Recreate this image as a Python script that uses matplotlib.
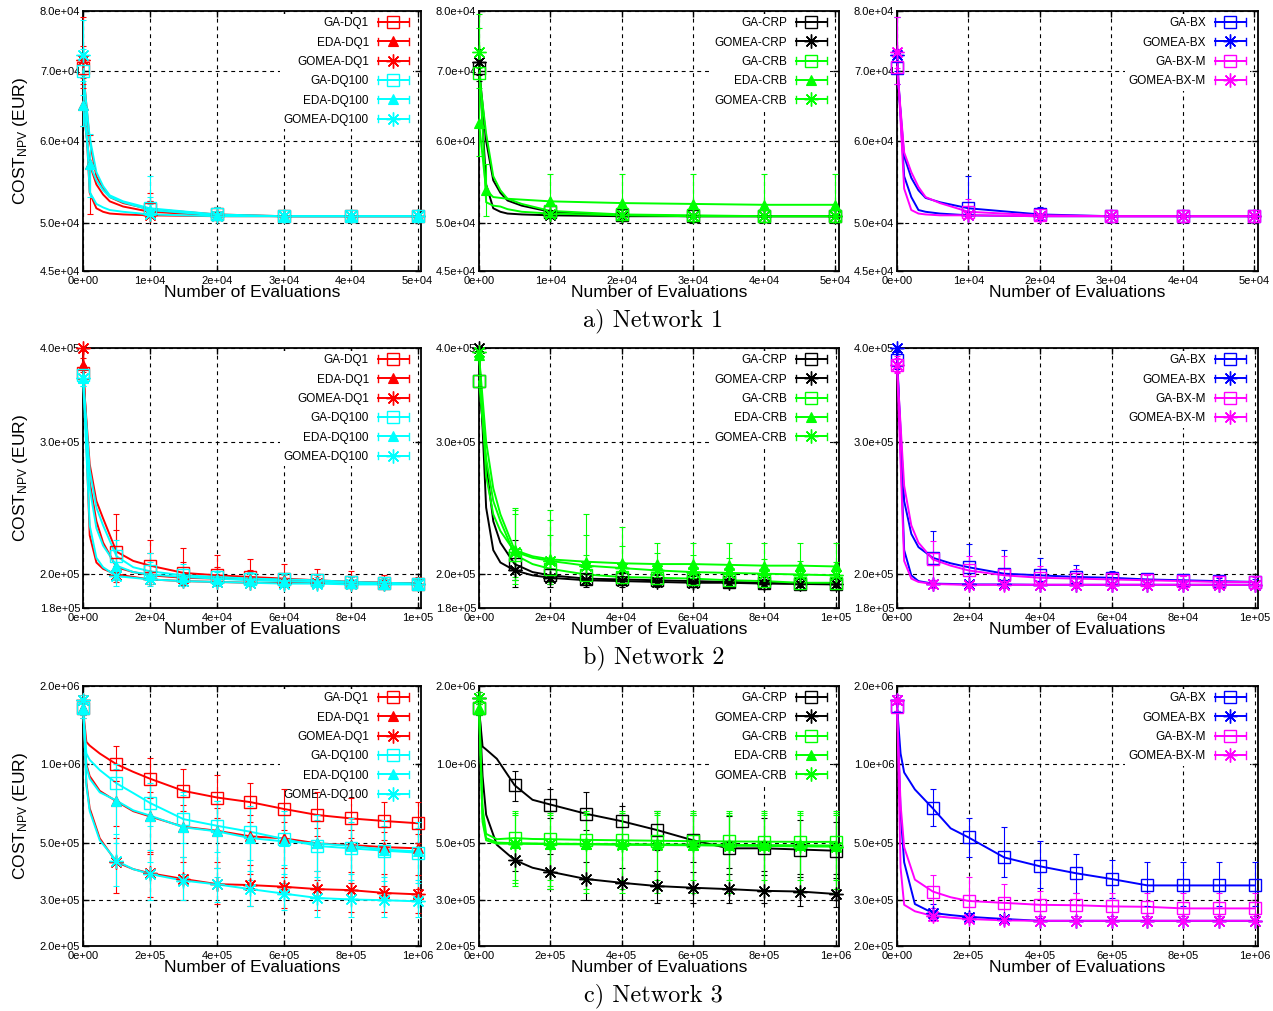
import numpy as np
import matplotlib
matplotlib.use('Agg')
import matplotlib.pyplot as plt
from matplotlib.lines import Line2D
from matplotlib.legend_handler import HandlerLine2D
from matplotlib.ticker import FixedLocator, FuncFormatter, NullLocator

plt.rcParams['font.family'] = ['Liberation Sans', 'DejaVu Sans']
plt.rcParams['mathtext.default'] = 'regular'

# ---------------- Network 1 ----------------
E1 = [0, 1000, 2000, 3000, 4000, 6000, 10000, 20000, 30000, 40000, 50000]
M1 = [0, 10000, 20000, 30000, 40000, 50000]
M1_EDA = [0, 1000, 10000, 20000, 30000, 40000, 50000]

N1_GA_DQ1 = [70500, 60000, 55500, 54000, 53000, 52300, 51600, 51000, 50800, 50800, 50800]
N1_EDA_DQ1 = [65000, 57000, 54500, 53300, 52500, 51900, 51300, 50900, 50800, 50800, 50800]
N1_GOMEA_DQ1 = [71800, 53500, 51700, 51300, 51100, 51000, 50900, 50800, 50800, 50800, 50800]
N1_GA_DQ100 = [70000, 60500, 56000, 54300, 53200, 52500, 51700, 51000, 50800, 50800, 50800]
N1_EDA_DQ100 = [65000, 57000, 55000, 53800, 53000, 52400, 51500, 50900, 50800, 50800, 50800]
N1_GOMEA_DQ100 = [72600, 53600, 52200, 51800, 51500, 51300, 51000, 50800, 50800, 50800, 50800]
N1_GA_DQ1_LO = [67500, 50900, 50600, 50700, 50700, 50700]
N1_GA_DQ1_HI = [74000, 53500, 51800, 51000, 50900, 50900]
N1_EDA_DQ1_LO = [62000, 51000, 50700, 50700, 50700, 50700, 50700]
N1_EDA_DQ1_HI = [68000, 60800, 52500, 51300, 50900, 50900, 50900]
N1_GOMEA_DQ1_LO = [69000, 50700, 50700, 50700, 50700, 50700]
N1_GOMEA_DQ1_HI = [79000, 52500, 51400, 51000, 50900, 50900]
N1_GA_DQ100_LO = [66500, 50800, 50600, 50700, 50700, 50700]
N1_GA_DQ100_HI = [73500, 55500, 51800, 51000, 50900, 50900]
N1_EDA_DQ100_LO = [62000, 53000, 50800, 50700, 50700, 50700, 50700]
N1_EDA_DQ100_HI = [68500, 61000, 53000, 51400, 50900, 50900, 50900]
N1_GOMEA_DQ100_LO = [69500, 50700, 50700, 50700, 50700, 50700]
N1_GOMEA_DQ100_HI = [78500, 52200, 51200, 51000, 50900, 50900]

N1_GA_CRP = [70500, 60000, 55000, 53500, 52600, 52000, 51300, 50900, 50800, 50800, 50800]
N1_GOMEA_CRP = [71500, 54500, 51700, 51300, 51100, 51000, 50900, 50800, 50800, 50800, 50800]
N1_GA_CRB = [69700, 61000, 55500, 53800, 52800, 52200, 51400, 51000, 50900, 50800, 50800]
N1_EDA_CRB = [62500, 53800, 53000, 52900, 52800, 52700, 52500, 52300, 52200, 52100, 52100]
N1_GOMEA_CRB = [73000, 52400, 52000, 51900, 51600, 51300, 51100, 50900, 50800, 50800, 50800]
N1_GA_CRP_LO = [68500, 50800, 50700, 50700, 50700, 50700]
N1_GA_CRP_HI = [72000, 52000, 51200, 51000, 50900, 50900]
N1_GOMEA_CRP_LO = [69500, 50600, 50700, 50700, 50700, 50700]
N1_GOMEA_CRP_HI = [73500, 51500, 51000, 50900, 50900, 50900]
N1_GA_CRB_LO = [67500, 50800, 50700, 50700, 50700, 50700]
N1_GA_CRB_HI = [72000, 52200, 51500, 51000, 50900, 50900]
N1_EDA_CRB_LO = [58000, 50800, 50800, 50800, 50800, 50800, 50800]
N1_EDA_CRB_HI = [77000, 57000, 55800, 55800, 55800, 55800, 55800]
N1_GOMEA_CRB_LO = [70500, 50700, 50700, 50700, 50700, 50700]
N1_GOMEA_CRB_HI = [79500, 52000, 51200, 51000, 50900, 50900]

N1_GA_BX = [70500, 58000, 55300, 53800, 52900, 52400, 51700, 51000, 50800, 50800, 50800]
N1_GOMEA_BX = [72500, 55500, 53000, 51500, 51300, 51100, 50900, 50800, 50800, 50800, 50800]
N1_GA_BXM = [70700, 58500, 56000, 54200, 53000, 52300, 51300, 50900, 50800, 50800, 50800]
N1_GOMEA_BXM = [73000, 54000, 51500, 51100, 51000, 50900, 50900, 50800, 50800, 50800, 50800]
N1_GA_BX_LO = [68000, 50800, 50700, 50700, 50700, 50700]
N1_GA_BX_HI = [73000, 55500, 51800, 51000, 50900, 50900]
N1_GOMEA_BX_LO = [70000, 50700, 50700, 50700, 50700, 50700]
N1_GOMEA_BX_HI = [79000, 51300, 51000, 50900, 50900, 50900]
N1_GA_BXM_LO = [68000, 50800, 50700, 50700, 50700, 50700]
N1_GA_BXM_HI = [73500, 52800, 51700, 51000, 50900, 50900]
N1_GOMEA_BXM_LO = [70500, 50700, 50700, 50700, 50700, 50700]
N1_GOMEA_BXM_HI = [79000, 51200, 51000, 50900, 50900, 50900]

# ---------------- Network 2 ----------------
E2 = [0, 2000, 4000, 6000, 10000, 15000, 20000, 30000, 40000, 50000, 60000, 70000, 80000, 90000, 100000]
M2 = [0, 10000, 20000, 30000, 40000, 50000, 60000, 70000, 80000, 90000, 100000]

N2_GA_DQ1 = [370000, 280000, 250000, 237000, 214000, 208000, 205000, 200500, 199000, 198000, 197000, 196000, 195000, 194500, 194000]
N2_EDA_DQ1 = [380000, 265000, 235000, 220000, 204000, 201000, 199000, 197500, 197000, 196500, 196000, 195500, 195000, 194500, 194000]
N2_GOMEA_DQ1 = [400000, 225000, 207000, 203000, 199500, 198000, 196500, 195500, 195000, 194500, 194500, 194500, 194000, 194000, 194000]
N2_GA_DQ100 = [368000, 275000, 245000, 232000, 211000, 204000, 201500, 199000, 198000, 197000, 196500, 196000, 195000, 194500, 194000]
N2_EDA_DQ100 = [365000, 260000, 230000, 218000, 205000, 201000, 199500, 198000, 197000, 196000, 195500, 195000, 194500, 194000, 194000]
N2_GOMEA_DQ100 = [365000, 232000, 210000, 204000, 198500, 197500, 196500, 195500, 195000, 194500, 194000, 194000, 193500, 193500, 193500]
N2_GA_DQ1_LO = [362000, 200000, 196000, 194000, 193000, 193000, 192500, 192500, 192500, 192500, 192500]
N2_GA_DQ1_HI = [380000, 240000, 222000, 216500, 212000, 209000, 206000, 203000, 201500, 199500, 198000]
N2_EDA_DQ1_LO = [372000, 196000, 194000, 193500, 193000, 193000, 193000, 193000, 193000, 193000, 193000]
N2_EDA_DQ1_HI = [388000, 229000, 213000, 207000, 204000, 202000, 200000, 199000, 198000, 197000, 196500]
N2_GOMEA_DQ1_LO = [396000, 195000, 194000, 193000, 193000, 192500, 192500, 192500, 192500, 192500, 192500]
N2_GOMEA_DQ1_HI = [400000, 205000, 200000, 198500, 198000, 197000, 197000, 196500, 196000, 196000, 196000]
N2_GA_DQ100_LO = [360000, 202000, 196000, 194500, 194000, 193500, 193500, 193500, 193000, 193000, 193000]
N2_GA_DQ100_HI = [376000, 222000, 213000, 206000, 203000, 201000, 200000, 199000, 198000, 197500, 197000]
N2_EDA_DQ100_LO = [356000, 196000, 194000, 194000, 193500, 193500, 193000, 193000, 193000, 193000, 193000]
N2_EDA_DQ100_HI = [374000, 215000, 207000, 203000, 201000, 200000, 199000, 198000, 197000, 196500, 196000]
N2_GOMEA_DQ100_LO = [356000, 192500, 192500, 192500, 192500, 192500, 192000, 192000, 192000, 192000, 192000]
N2_GOMEA_DQ100_HI = [374000, 205000, 200000, 198500, 198000, 197000, 196500, 196000, 195500, 195000, 195000]

N2_GA_CRP = [362000, 280000, 235000, 220000, 206000, 201000, 199000, 197000, 196500, 196000, 195500, 195000, 194500, 194000, 194000]
N2_GOMEA_CRP = [400000, 245000, 215000, 207000, 202000, 199000, 197500, 196000, 195500, 195000, 194500, 194500, 194000, 193800, 193500]
N2_GA_CRB = [361000, 285000, 250000, 235000, 212000, 206000, 203000, 199500, 198000, 197500, 197000, 196000, 195500, 194500, 194500]
N2_EDA_CRB = [392000, 300000, 260000, 240000, 215000, 211000, 209000, 207500, 206500, 206000, 206000, 205500, 205000, 205000, 204500]
N2_GOMEA_CRB = [395000, 270000, 240000, 228000, 214000, 210000, 208000, 205000, 203500, 202000, 201000, 200500, 200000, 199500, 199000]
N2_GA_CRP_LO = [355000, 196000, 194000, 193500, 193000, 193000, 193000, 193000, 193000, 193000, 193000]
N2_GA_CRP_HI = [368000, 222000, 210000, 203000, 201000, 199500, 198500, 197500, 197000, 196500, 196500]
N2_GOMEA_CRP_LO = [395000, 192000, 192000, 192000, 192000, 192000, 192000, 192000, 192000, 192000, 192000]
N2_GOMEA_CRP_HI = [400000, 215000, 203000, 200000, 198500, 197500, 197000, 196500, 196000, 195500, 195000]
N2_GA_CRB_LO = [355000, 198000, 195000, 194000, 193500, 193500, 193500, 193000, 193000, 193000, 193000]
N2_GA_CRB_HI = [368000, 240000, 225000, 212000, 207000, 204000, 202000, 200000, 199000, 198000, 197500]
N2_EDA_CRB_LO = [385000, 194000, 194000, 194000, 194000, 194000, 194000, 194000, 194000, 194000, 194000]
N2_EDA_CRB_HI = [398000, 245000, 243000, 240000, 231000, 220000, 220000, 220000, 220000, 220000, 220000]
N2_GOMEA_CRB_LO = [390000, 196000, 195000, 194500, 194000, 194000, 194000, 194000, 194000, 194000, 194000]
N2_GOMEA_CRB_HI = [400000, 243000, 236000, 225000, 218000, 213000, 212000, 210000, 209000, 208000, 207000]

N2_GA_BX = [385000, 250000, 226000, 217000, 210000, 206500, 204000, 200000, 199000, 198000, 197500, 196500, 196000, 195500, 195000]
N2_GOMEA_BX = [400000, 215000, 199000, 195500, 194000, 193800, 193500, 193500, 193300, 193300, 193300, 193300, 193300, 193300, 193300]
N2_GA_BXM = [380000, 262000, 232000, 220000, 209000, 205000, 202000, 199000, 197500, 197000, 196500, 196000, 195500, 195000, 195000]
N2_GOMEA_BXM = [380000, 208000, 197000, 195000, 193800, 193500, 193300, 193300, 193300, 193300, 193300, 193300, 193300, 193300, 193300]
N2_GA_BX_LO = [375000, 196000, 195000, 194000, 194000, 194000, 194000, 194000, 194000, 194000, 194000]
N2_GA_BX_HI = [395000, 228000, 219000, 215000, 210000, 205500, 201500, 199500, 198500, 197500, 197000]
N2_GOMEA_BX_LO = [396000, 192000, 192000, 192000, 192000, 192000, 192000, 192000, 192000, 192000, 192000]
N2_GOMEA_BX_HI = [400000, 196000, 195000, 195000, 195000, 195000, 195000, 195000, 195000, 195000, 195000]
N2_GA_BXM_LO = [370000, 195000, 193500, 193500, 193500, 193500, 193500, 193500, 193500, 193500, 193500]
N2_GA_BXM_HI = [390000, 221000, 211000, 211000, 205000, 203000, 200000, 199000, 198500, 198000, 198000]
N2_GOMEA_BXM_LO = [372000, 191500, 191500, 191500, 191500, 191500, 191500, 191500, 191500, 191500, 191500]
N2_GOMEA_BXM_HI = [388000, 196000, 195000, 195000, 195000, 195000, 195000, 195000, 195000, 195000, 195000]

# ---------------- Network 3 ----------------
E3 = [0, 10000, 20000, 50000, 100000, 150000, 200000, 300000, 400000, 500000, 600000, 700000, 800000, 900000, 1000000]
M3 = [0, 100000, 200000, 300000, 400000, 500000, 600000, 700000, 800000, 900000, 1000000]

N3_GA_DQ1 = [1640000, 1220000, 1180000, 1100000, 1000000, 935000, 880000, 790000, 745000, 715000, 673000, 638000, 619000, 605000, 593000]
N3_EDA_DQ1 = [1640000, 1000000, 900000, 790000, 720000, 660000, 630000, 575000, 555000, 528000, 519000, 496000, 489000, 480000, 475000]
N3_GOMEA_DQ1 = [1770000, 850000, 677000, 519000, 420000, 395000, 381000, 362000, 346000, 343000, 338000, 331000, 328000, 320000, 316000]
N3_GA_DQ100 = [1640000, 1100000, 1040000, 950000, 845000, 775000, 710000, 615000, 580000, 550000, 516000, 485000, 475000, 465000, 457000]
N3_EDA_DQ100 = [1640000, 980000, 880000, 780000, 725000, 665000, 635000, 572000, 552000, 520000, 505000, 496000, 485000, 470000, 462000]
N3_GOMEA_DQ100 = [1770000, 830000, 660000, 510000, 425000, 395000, 378000, 357000, 345000, 331000, 318000, 306000, 302000, 300000, 297000]
N3_GA_DQ1_LO = [1500000, 860000, 740000, 660000, 620000, 600000, 560000, 530000, 520000, 510000, 500000]
N3_GA_DQ1_HI = [1800000, 1180000, 1060000, 960000, 910000, 845000, 800000, 780000, 740000, 718000, 718000]
N3_EDA_DQ1_LO = [1550000, 580000, 460000, 420000, 400000, 380000, 370000, 360000, 350000, 340000, 330000]
N3_EDA_DQ1_HI = [1700000, 860000, 780000, 700000, 680000, 640000, 600000, 570000, 560000, 550000, 540000]
N3_GOMEA_DQ1_LO = [1650000, 320000, 310000, 300000, 290000, 285000, 280000, 275000, 270000, 270000, 268000]
N3_GOMEA_DQ1_HI = [1850000, 520000, 450000, 440000, 420000, 410000, 400000, 390000, 385000, 380000, 375000]
N3_GA_DQ100_LO = [1500000, 700000, 580000, 500000, 460000, 430000, 410000, 390000, 380000, 370000, 360000]
N3_GA_DQ100_HI = [1750000, 1000000, 850000, 760000, 720000, 680000, 640000, 610000, 600000, 580000, 570000]
N3_EDA_DQ100_LO = [1550000, 500000, 420000, 380000, 370000, 360000, 350000, 340000, 330000, 320000, 310000]
N3_EDA_DQ100_HI = [1700000, 960000, 830000, 780000, 720000, 690000, 660000, 640000, 620000, 610000, 600000]
N3_GOMEA_DQ100_LO = [1650000, 340000, 300000, 300000, 295000, 285000, 275000, 258000, 258000, 258000, 258000]
N3_GOMEA_DQ100_HI = [1850000, 540000, 470000, 440000, 400000, 390000, 380000, 370000, 360000, 355000, 350000]

N3_GA_CRP = [1640000, 1170000, 1140000, 1050000, 830000, 730000, 700000, 645000, 604000, 558000, 510000, 475000, 475000, 470000, 465000]
N3_GOMEA_CRP = [1800000, 900000, 640000, 490000, 428000, 400000, 386000, 362000, 350000, 340000, 335000, 331000, 326000, 324000, 317000]
N3_GA_CRB = [1640000, 680000, 540000, 515000, 520000, 516000, 515000, 512000, 510000, 508000, 506000, 505000, 504000, 503000, 503000]
N3_EDA_CRB = [1640000, 620000, 520000, 500000, 497000, 496000, 495000, 494000, 493000, 492000, 491000, 490000, 489000, 488000, 487000]
N3_GOMEA_CRB = [1800000, 600000, 510000, 495000, 495000, 494000, 493000, 492000, 490000, 489000, 488000, 486000, 485000, 483000, 482000]
N3_GA_CRP_LO = [1550000, 720000, 620000, 560000, 500000, 470000, 420000, 400000, 390000, 380000, 380000]
N3_GA_CRP_HI = [1750000, 940000, 800000, 780000, 690000, 660000, 640000, 630000, 620000, 610000, 600000]
N3_GOMEA_CRP_LO = [1700000, 390000, 330000, 300000, 300000, 292000, 292000, 292000, 292000, 285000, 282000]
N3_GOMEA_CRP_HI = [1900000, 480000, 450000, 420000, 400000, 390000, 385000, 380000, 375000, 370000, 365000]
N3_GA_CRB_LO = [1550000, 360000, 360000, 360000, 360000, 360000, 360000, 360000, 360000, 360000, 360000]
N3_GA_CRB_HI = [1700000, 660000, 660000, 660000, 660000, 660000, 660000, 660000, 660000, 660000, 660000]
N3_EDA_CRB_LO = [1550000, 340000, 330000, 320000, 320000, 320000, 320000, 320000, 320000, 320000, 320000]
N3_EDA_CRB_HI = [1700000, 640000, 640000, 640000, 640000, 640000, 640000, 640000, 640000, 640000, 640000]
N3_GOMEA_CRB_LO = [1700000, 350000, 340000, 330000, 330000, 330000, 330000, 330000, 330000, 330000, 330000]
N3_GOMEA_CRB_HI = [1900000, 650000, 650000, 650000, 650000, 650000, 650000, 650000, 650000, 650000, 650000]

N3_GA_BX = [1670000, 1100000, 930000, 800000, 677000, 567000, 523000, 438000, 405000, 381000, 362000, 342000, 342000, 342000, 342000]
N3_GOMEA_BX = [1770000, 650000, 420000, 290000, 268000, 263000, 259000, 254000, 250000, 250000, 250000, 250000, 250000, 250000, 250000]
N3_GA_BXM = [1660000, 700000, 480000, 360000, 324000, 308000, 298000, 293000, 288000, 287000, 284000, 283000, 279000, 279000, 279000]
N3_GOMEA_BXM = [1770000, 400000, 288000, 272000, 261000, 257000, 254000, 251000, 250000, 250000, 250000, 250000, 250000, 250000, 250000]
N3_GA_BX_LO = [1600000, 580000, 440000, 370000, 333000, 320000, 305000, 285000, 285000, 285000, 285000]
N3_GA_BX_HI = [1750000, 800000, 620000, 575000, 505000, 450000, 430000, 420000, 420000, 420000, 420000]
N3_GOMEA_BX_LO = [1700000, 252000, 250000, 248000, 246000, 246000, 246000, 246000, 246000, 246000, 246000]
N3_GOMEA_BX_HI = [1850000, 290000, 268000, 260000, 256000, 255000, 255000, 255000, 255000, 255000, 255000]
N3_GA_BXM_LO = [1600000, 280000, 262000, 262000, 262000, 262000, 262000, 262000, 262000, 262000, 262000]
N3_GA_BXM_HI = [1720000, 375000, 370000, 345000, 325000, 320000, 320000, 320000, 320000, 320000, 320000]
N3_GOMEA_BXM_LO = [1700000, 250000, 248000, 246000, 246000, 246000, 246000, 246000, 246000, 246000, 246000]
N3_GOMEA_BXM_HI = [1850000, 275000, 262000, 256000, 255000, 255000, 255000, 255000, 255000, 255000, 255000]

RED, CYAN, BLACK, GREEN, BLUE, MAGENTA = '#ff0000', '#00ffff', '#000000', '#00ff00', '#0000ff', '#ff00ff'

ROWS_DATA = [
    dict(E=E1, xlim=50500, xt=[0, 10000, 20000, 30000, 40000, 50000],
         ylim=(45000, 80000), yt=[45000, 50000, 60000, 70000, 80000],
         title='a) Network 1', panels=[
            [('GA-DQ1', RED, 'GA', N1_GA_DQ1, N1_GA_DQ1_LO, N1_GA_DQ1_HI, M1),
             ('EDA-DQ1', RED, 'EDA', N1_EDA_DQ1, N1_EDA_DQ1_LO, N1_EDA_DQ1_HI, M1_EDA),
             ('GOMEA-DQ1', RED, 'GOMEA', N1_GOMEA_DQ1, N1_GOMEA_DQ1_LO, N1_GOMEA_DQ1_HI, M1),
             ('GA-DQ100', CYAN, 'GA', N1_GA_DQ100, N1_GA_DQ100_LO, N1_GA_DQ100_HI, M1),
             ('EDA-DQ100', CYAN, 'EDA', N1_EDA_DQ100, N1_EDA_DQ100_LO, N1_EDA_DQ100_HI, M1_EDA),
             ('GOMEA-DQ100', CYAN, 'GOMEA', N1_GOMEA_DQ100, N1_GOMEA_DQ100_LO, N1_GOMEA_DQ100_HI, M1)],
            [('GA-CRP', BLACK, 'GA', N1_GA_CRP, N1_GA_CRP_LO, N1_GA_CRP_HI, M1),
             ('GOMEA-CRP', BLACK, 'GOMEA', N1_GOMEA_CRP, N1_GOMEA_CRP_LO, N1_GOMEA_CRP_HI, M1),
             ('GA-CRB', GREEN, 'GA', N1_GA_CRB, N1_GA_CRB_LO, N1_GA_CRB_HI, M1),
             ('EDA-CRB', GREEN, 'EDA', N1_EDA_CRB, N1_EDA_CRB_LO, N1_EDA_CRB_HI, M1_EDA),
             ('GOMEA-CRB', GREEN, 'GOMEA', N1_GOMEA_CRB, N1_GOMEA_CRB_LO, N1_GOMEA_CRB_HI, M1)],
            [('GA-BX', BLUE, 'GA', N1_GA_BX, N1_GA_BX_LO, N1_GA_BX_HI, M1),
             ('GOMEA-BX', BLUE, 'GOMEA', N1_GOMEA_BX, N1_GOMEA_BX_LO, N1_GOMEA_BX_HI, M1),
             ('GA-BX-M', MAGENTA, 'GA', N1_GA_BXM, N1_GA_BXM_LO, N1_GA_BXM_HI, M1),
             ('GOMEA-BX-M', MAGENTA, 'GOMEA', N1_GOMEA_BXM, N1_GOMEA_BXM_LO, N1_GOMEA_BXM_HI, M1)]]),
    dict(E=E2, xlim=100900, xt=[0, 20000, 40000, 60000, 80000, 100000],
         ylim=(180000, 400000), yt=[180000, 200000, 300000, 400000],
         title='b) Network 2', panels=[
            [('GA-DQ1', RED, 'GA', N2_GA_DQ1, N2_GA_DQ1_LO, N2_GA_DQ1_HI, M2),
             ('EDA-DQ1', RED, 'EDA', N2_EDA_DQ1, N2_EDA_DQ1_LO, N2_EDA_DQ1_HI, M2),
             ('GOMEA-DQ1', RED, 'GOMEA', N2_GOMEA_DQ1, N2_GOMEA_DQ1_LO, N2_GOMEA_DQ1_HI, M2),
             ('GA-DQ100', CYAN, 'GA', N2_GA_DQ100, N2_GA_DQ100_LO, N2_GA_DQ100_HI, M2),
             ('EDA-DQ100', CYAN, 'EDA', N2_EDA_DQ100, N2_EDA_DQ100_LO, N2_EDA_DQ100_HI, M2),
             ('GOMEA-DQ100', CYAN, 'GOMEA', N2_GOMEA_DQ100, N2_GOMEA_DQ100_LO, N2_GOMEA_DQ100_HI, M2)],
            [('GA-CRP', BLACK, 'GA', N2_GA_CRP, N2_GA_CRP_LO, N2_GA_CRP_HI, M2),
             ('GOMEA-CRP', BLACK, 'GOMEA', N2_GOMEA_CRP, N2_GOMEA_CRP_LO, N2_GOMEA_CRP_HI, M2),
             ('GA-CRB', GREEN, 'GA', N2_GA_CRB, N2_GA_CRB_LO, N2_GA_CRB_HI, M2),
             ('EDA-CRB', GREEN, 'EDA', N2_EDA_CRB, N2_EDA_CRB_LO, N2_EDA_CRB_HI, M2),
             ('GOMEA-CRB', GREEN, 'GOMEA', N2_GOMEA_CRB, N2_GOMEA_CRB_LO, N2_GOMEA_CRB_HI, M2)],
            [('GA-BX', BLUE, 'GA', N2_GA_BX, N2_GA_BX_LO, N2_GA_BX_HI, M2),
             ('GOMEA-BX', BLUE, 'GOMEA', N2_GOMEA_BX, N2_GOMEA_BX_LO, N2_GOMEA_BX_HI, M2),
             ('GA-BX-M', MAGENTA, 'GA', N2_GA_BXM, N2_GA_BXM_LO, N2_GA_BXM_HI, M2),
             ('GOMEA-BX-M', MAGENTA, 'GOMEA', N2_GOMEA_BXM, N2_GOMEA_BXM_LO, N2_GOMEA_BXM_HI, M2)]]),
    dict(E=E3, xlim=1009000, xt=[0, 200000, 400000, 600000, 800000, 1000000],
         ylim=(200000, 2000000), yt=[200000, 300000, 500000, 1000000, 2000000],
         title='c) Network 3', panels=[
            [('GA-DQ1', RED, 'GA', N3_GA_DQ1, N3_GA_DQ1_LO, N3_GA_DQ1_HI, M3),
             ('EDA-DQ1', RED, 'EDA', N3_EDA_DQ1, N3_EDA_DQ1_LO, N3_EDA_DQ1_HI, M3),
             ('GOMEA-DQ1', RED, 'GOMEA', N3_GOMEA_DQ1, N3_GOMEA_DQ1_LO, N3_GOMEA_DQ1_HI, M3),
             ('GA-DQ100', CYAN, 'GA', N3_GA_DQ100, N3_GA_DQ100_LO, N3_GA_DQ100_HI, M3),
             ('EDA-DQ100', CYAN, 'EDA', N3_EDA_DQ100, N3_EDA_DQ100_LO, N3_EDA_DQ100_HI, M3),
             ('GOMEA-DQ100', CYAN, 'GOMEA', N3_GOMEA_DQ100, N3_GOMEA_DQ100_LO, N3_GOMEA_DQ100_HI, M3)],
            [('GA-CRP', BLACK, 'GA', N3_GA_CRP, N3_GA_CRP_LO, N3_GA_CRP_HI, M3),
             ('GOMEA-CRP', BLACK, 'GOMEA', N3_GOMEA_CRP, N3_GOMEA_CRP_LO, N3_GOMEA_CRP_HI, M3),
             ('GA-CRB', GREEN, 'GA', N3_GA_CRB, N3_GA_CRB_LO, N3_GA_CRB_HI, M3),
             ('EDA-CRB', GREEN, 'EDA', N3_EDA_CRB, N3_EDA_CRB_LO, N3_EDA_CRB_HI, M3),
             ('GOMEA-CRB', GREEN, 'GOMEA', N3_GOMEA_CRB, N3_GOMEA_CRB_LO, N3_GOMEA_CRB_HI, M3)],
            [('GA-BX', BLUE, 'GA', N3_GA_BX, N3_GA_BX_LO, N3_GA_BX_HI, M3),
             ('GOMEA-BX', BLUE, 'GOMEA', N3_GOMEA_BX, N3_GOMEA_BX_LO, N3_GOMEA_BX_HI, M3),
             ('GA-BX-M', MAGENTA, 'GA', N3_GA_BXM, N3_GA_BXM_LO, N3_GA_BXM_HI, M3),
             ('GOMEA-BX-M', MAGENTA, 'GOMEA', N3_GOMEA_BXM, N3_GOMEA_BXM_LO, N3_GOMEA_BXM_HI, M3)]]),
]

STYLE = {'GA': dict(marker='s', markersize=8.5, markerfacecolor='none', markeredgewidth=1.0),
         'EDA': dict(marker='^', markersize=7, markeredgewidth=0.8),
         'GOMEA': dict(marker=(8, 2, 0), markersize=10, markeredgewidth=1.0)}


class HandlerEB(HandlerLine2D):
    def create_artists(self, legend, orig_handle, xdescent, ydescent, width, height, fontsize, trans):
        arts = super().create_artists(legend, orig_handle, xdescent, ydescent, width, height, fontsize, trans)
        yc = (height - ydescent) / 2.0
        for xx in (-xdescent, -xdescent + width):
            cap = Line2D([xx, xx], [yc - 2.6, yc + 2.6], color=orig_handle.get_color(), lw=1.0)
            cap.set_transform(trans)
            arts.append(cap)
        return list(arts)


W, H = 1273, 1011
fig = plt.figure(figsize=(W / 100, H / 100), dpi=100)
fig.patch.set_facecolor('white')

COLS = [(83, 421), (479, 839), (897, 1258)]
ROWS = [(11, 271), (348, 608), (686, 946)]
TITLE_Y = [321, 658, 996]

for r, rd in enumerate(ROWS_DATA):
    x = np.asarray(rd['E'], float)
    for c, series in enumerate(rd['panels']):
        x0, x1 = COLS[c]
        y0, y1 = ROWS[r]
        ax = fig.add_axes([x0 / W, 1 - y1 / H, (x1 - x0) / W, (y1 - y0) / H])
        ax.set_yscale('log')
        handles, labels = [], []
        for (label, color, kind, vals, lo, hi, marks) in series:
            y = np.asarray(vals, float)
            idx = [int(np.argmin(np.abs(x - m))) for m in marks]
            ax.plot(x, y, color=color, lw=1.4, zorder=3, clip_on=False)
            ax.plot(x, y, ls='none', color=color, markevery=idx, zorder=3.2,
                    clip_on=False, **STYLE[kind])
            ym = y[idx]
            lo_a = np.asarray(lo, float)
            hi_a = np.asarray(hi, float)
            ax.errorbar(x[idx], ym, yerr=[np.clip(ym - lo_a, 0, None), np.clip(hi_a - ym, 0, None)],
                        fmt='none', ecolor=color, elinewidth=0.8, capsize=2, capthick=0.8,
                        zorder=3.1, clip_on=False)
            handles.append(Line2D([], [], color=color, lw=1.4, **STYLE[kind]))
            labels.append(label)

        ax.set_xlim(0, rd['xlim'])
        ax.set_ylim(*rd['ylim'])
        ax.yaxis.set_major_locator(FixedLocator(rd['yt']))
        ax.yaxis.set_minor_locator(NullLocator())
        ax.yaxis.set_major_formatter(FuncFormatter(lambda v, p: '%.1e' % v))
        ax.xaxis.set_major_locator(FixedLocator(rd['xt']))
        ax.xaxis.set_major_formatter(FuncFormatter(lambda v, p: '%.0e' % v))
        ax.tick_params(direction='in', length=4, width=1, top=True, right=True,
                       labelsize=8)
        ax.tick_params(axis='y', pad=2)
        ax.tick_params(axis='x', pad=3.5)
        ax.grid(True, color='black', lw=0.8, linestyle=(0, (3.5, 3.5)))
        ax.set_axisbelow(True)
        for s in ax.spines.values():
            s.set_linewidth(1.3)
        ax.set_xlabel('Number of Evaluations', fontsize=12.5)
        ax.xaxis.set_label_coords(0.5, -0.055)
        if c == 0:
            ax.set_ylabel(r'COST$_{NPV}$ (EUR)', fontsize=12.5)
            ax.yaxis.set_label_coords(-0.157, 0.5)

        wpx = x1 - x0
        leg = ax.legend(handles, labels, loc='upper right',
                        bbox_to_anchor=(1 - 8.5 / wpx, 1 - 2.7 / 260.0),
                        borderaxespad=0, borderpad=0.3, frameon=True, fancybox=False,
                        framealpha=1, edgecolor='none', facecolor='white', fontsize=8.5,
                        markerfirst=False, handlelength=2.63, handletextpad=0.76,
                        labelspacing=0.62, numpoints=1,
                        handler_map={Line2D: HandlerEB()})
        leg.set_zorder(1)

    fig.text(0.5134, 1 - TITLE_Y[r] / H, rd['title'], ha='center', va='center',
             fontsize=17.5, fontfamily='cmr10')

fig.savefig('out.png', dpi=100, facecolor='white')
